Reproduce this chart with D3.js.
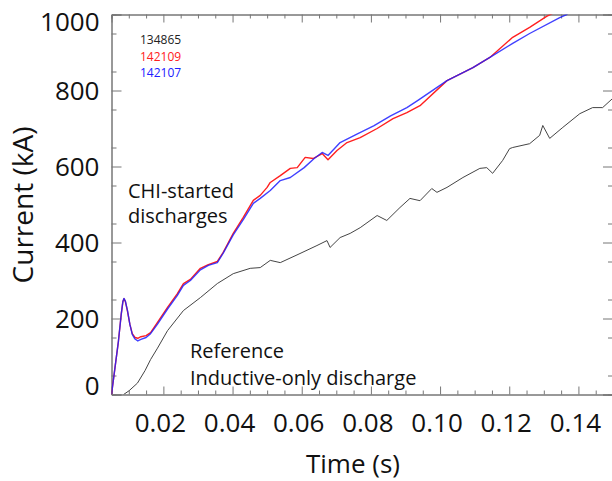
<!DOCTYPE html>
<html>
<head>
<meta charset="utf-8">
<script src="https://cdn.jsdelivr.net/npm/d3@7"></script>
<style>
	body { margin: 0; background: #fff; }
	svg { display: block; font-family: 'Open Sans', sans-serif; }
	.axis path, .axis line { stroke: #777; }
	.axis text { fill: #111; font-size: 26px; font-family: 'Open Sans', sans-serif; }
</style>
</head>
<body>
<svg id="chart" width="612" height="481"></svg>
<script>
// time (s), plasma current (kA)
const shot134865 = [
	[0.0085, 0], [0.0101, 10], [0.0125, 30], [0.0147, 63], [0.0163, 92], [0.0183, 122],
	[0.0212, 168], [0.0258, 221], [0.0307, 255], [0.0356, 292], [0.0402, 318], [0.0451, 332],
	[0.0480, 334], [0.0509, 353], [0.0538, 347], [0.0595, 371], [0.0644, 392], [0.0673, 405],
	[0.0682, 387], [0.0711, 413], [0.0740, 424], [0.0769, 439], [0.0818, 471], [0.0846, 458],
	[0.0884, 492], [0.0913, 516], [0.0942, 510], [0.0976, 542], [0.0991, 532], [0.1020, 545],
	[0.1066, 571], [0.1115, 595], [0.1135, 597], [0.1152, 582], [0.1181, 616], [0.1201, 647],
	[0.1210, 650], [0.1259, 660], [0.1288, 682], [0.1297, 708], [0.1317, 674], [0.1355, 703],
	[0.1404, 739], [0.1441, 755], [0.1470, 755], [0.1500, 780]
]

const shot142109 = [
	[0.0050, 0], [0.0060, 70], [0.0070, 140], [0.0078, 210], [0.0083, 245], [0.0086, 252],
	[0.0090, 245], [0.0096, 220], [0.0103, 185], [0.0110, 160], [0.0118, 150], [0.0126, 148],
	[0.0135, 152], [0.0150, 155], [0.0163, 163], [0.0183, 190], [0.0212, 229], [0.0240, 265],
	[0.0258, 292], [0.0278, 303], [0.0307, 332], [0.0330, 342], [0.0356, 350], [0.0373, 374],
	[0.0402, 424], [0.0431, 466], [0.0460, 511], [0.0480, 524], [0.0500, 545], [0.0509, 558],
	[0.0538, 576], [0.0567, 595], [0.0587, 597], [0.0610, 624], [0.0633, 621], [0.0659, 634],
	[0.0676, 618], [0.0702, 642], [0.0731, 663], [0.0769, 676], [0.0818, 700], [0.0864, 726],
	[0.0904, 742], [0.0942, 760], [0.1020, 826], [0.1095, 860], [0.1144, 887], [0.1210, 940],
	[0.1259, 966], [0.1308, 995], [0.1330, 1005], [0.1360, 1030]
]

const shot142107 = [
	[0.0050, 0], [0.0060, 70], [0.0070, 140], [0.0078, 210], [0.0083, 245], [0.0086, 253],
	[0.0090, 246], [0.0096, 222], [0.0103, 185], [0.0110, 158], [0.0118, 146], [0.0126, 141],
	[0.0135, 145], [0.0150, 150], [0.0163, 160], [0.0183, 185], [0.0212, 225], [0.0240, 260],
	[0.0258, 287], [0.0278, 300], [0.0307, 328], [0.0330, 340], [0.0356, 347], [0.0373, 372],
	[0.0402, 420], [0.0431, 460], [0.0460, 503], [0.0480, 516], [0.0509, 537], [0.0538, 563],
	[0.0567, 571], [0.0607, 597], [0.0636, 621], [0.0659, 637], [0.0676, 629], [0.0711, 663],
	[0.0761, 686], [0.0808, 707], [0.0857, 733], [0.0904, 755], [0.0936, 774], [0.1020, 826],
	[0.1095, 860], [0.1144, 887], [0.1210, 924], [0.1259, 950], [0.1346, 992], [0.1366, 1000],
	[0.1400, 1030]
]

const xTicks = [0.02, 0.04, 0.06, 0.08, 0.10, 0.12, 0.14]
const yTicks = [0, 200, 400, 600, 800, 1000]
const legendLabels = ['134865', '142109', '142107']

const colors = { '134865': '#444', '142109': '#ff2020', '142107': '#2020ff' }

const margin = { top: 14.5, right: -1, bottom: 86.5, left: 111.5 }
const width = 612
const height = 481

const svg = d3.select('#chart')

const x = d3.scaleLinear()
	.domain([0.005, 0.15])
	.range([margin.left, width - margin.right])

const y = d3.scaleLinear()
	.domain([0, 1000])
	.range([height - margin.bottom, margin.top])

svg.append('clipPath')
	.attr('id', 'plot-clip')
	.append('rect')
		.attr('x', x.range()[0])
		.attr('y', y.range()[1])
		.attr('width', x.range()[1] - x.range()[0])
		.attr('height', y.range()[0] - y.range()[1])

// minor ticks first, majors on top
const xMinor = d3.range(0.005, 0.1501, 0.005).filter((v) => Math.abs(v / 0.02 - Math.round(v / 0.02)) > 1e-6)
const yMinor = d3.range(50, 1000, 100)

const axisLayer = svg.append('g')

axisLayer.append('g').attr('class', 'axis')
	.attr('transform', `translate(0,${y(0)})`)
	.call(d3.axisBottom(x).tickValues(xMinor).tickSize(-4).tickFormat(''))
axisLayer.append('g').attr('class', 'axis')
	.attr('transform', `translate(0,${y(1000)})`)
	.call(d3.axisTop(x).tickValues(xMinor).tickSize(-4).tickFormat(''))
axisLayer.append('g').attr('class', 'axis')
	.attr('transform', `translate(${x(0.005)},0)`)
	.call(d3.axisLeft(y).tickValues(yMinor).tickSize(-5).tickFormat(''))
axisLayer.append('g').attr('class', 'axis')
	.attr('transform', `translate(${x(0.15)},0)`)
	.call(d3.axisRight(y).tickValues(yMinor).tickSize(-5).tickFormat(''))

const xAxis = axisLayer.append('g').attr('class', 'axis')
	.attr('transform', `translate(0,${y(0)})`)
	.call(d3.axisBottom(x).tickValues(xTicks).tickSize(-8).tickPadding(19.5).tickFormat(d3.format('.2f')))
xAxis.selectAll('text').attr('dx', -3.5)

axisLayer.append('g').attr('class', 'axis')
	.attr('transform', `translate(0,${y(1000)})`)
	.call(d3.axisTop(x).tickValues(xTicks).tickSize(-8).tickFormat(''))

const yAxis = axisLayer.append('g').attr('class', 'axis')
	.attr('transform', `translate(${x(0.005)},0)`)
	.call(d3.axisLeft(y).tickValues(yTicks).tickSize(-10).tickPadding(12).tickFormat(d3.format('d')))
// end labels are pulled inside the canvas
yAxis.selectAll('text')
	.attr('dy', (d) => d === 1000 ? '0.62em' : d === 0 ? '0.0em' : '0.34em')

axisLayer.append('g').attr('class', 'axis')
	.attr('transform', `translate(${x(0.15)},0)`)
	.call(d3.axisRight(y).tickValues(yTicks).tickSize(-10).tickFormat(''))

const line = d3.line()
	.x((d) => x(d[0]))
	.y((d) => y(d[1]))

const traces = [
	{ id: '134865', data: shot134865, w: 1 },
	{ id: '142109', data: shot142109, w: 1.4 },
	{ id: '142107', data: shot142107, w: 1.4 },
]

svg.append('g')
	.attr('clip-path', 'url(#plot-clip)')
	.selectAll('path')
	.data(traces)
	.join('path')
		.attr('d', (t) => line(t.data))
		.attr('fill', 'none')
		.attr('stroke', (t) => colors[t.id])
		.attr('stroke-width', (t) => t.w)
		.attr('stroke-opacity', (t) => t.id === '142107' ? 0.85 : 1)
		.attr('stroke-linejoin', 'round')

svg.append('g')
	.selectAll('text')
	.data(legendLabels)
	.join('text')
		.attr('x', 140)
		.attr('y', (d, i) => 44 + i * 16.5)
		.attr('font-size', 12)
		.attr('fill', (d) => d === '134865' ? '#222' : colors[d])
		.text((d) => d)

const notes = [
	{ text: 'CHI-started', x: 128, y: 198 },
	{ text: 'discharges', x: 128, y: 223 },
	{ text: 'Reference', x: 190, y: 358 },
	{ text: 'Inductive-only discharge', x: 190, y: 385 },
]

svg.append('g')
	.selectAll('text')
	.data(notes)
	.join('text')
		.attr('x', (d) => d.x)
		.attr('y', (d) => d.y)
		.attr('font-size', 20)
		.attr('fill', '#111')
		.text((d) => d.text)

svg.append('text')
	.attr('x', 353)
	.attr('y', 473)
	.attr('text-anchor', 'middle')
	.attr('font-size', 26)
	.attr('fill', '#111')
	.text('Time (s)')

svg.append('text')
	.attr('transform', 'translate(33,205) rotate(-90)')
	.attr('text-anchor', 'middle')
	.attr('font-size', 28)
	.attr('fill', '#111')
	.text('Current (kA)')
</script>
</body>
</html>
